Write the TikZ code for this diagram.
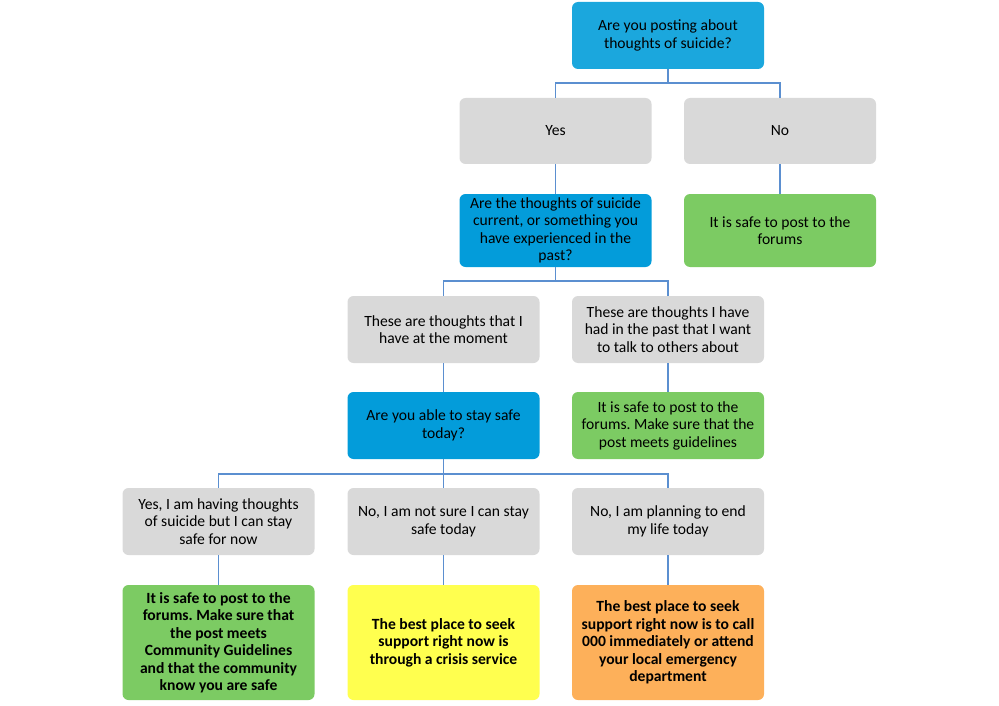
\documentclass[tikz,border=0pt]{standalone}
\usepackage{fontspec}
\setmainfont{Carlito}
\frenchspacing
\definecolor{qblue}{HTML}{1BA7DD}
\definecolor{qblue2}{HTML}{039CDA}
\definecolor{boxgray}{HTML}{D9D9D9}
\definecolor{okgreen}{HTML}{7CCB63}
\definecolor{warnyellow}{HTML}{FFFF4F}
\definecolor{alertorange}{HTML}{FDB05A}
\definecolor{linkblue}{HTML}{5B8FD0}
\begin{document}
\begin{tikzpicture}[x=1pt,y=-1pt,
  base/.style={rectangle,rounded corners=6pt,minimum width=192pt,inner sep=2pt,align=center,
    font=\fontsize{15.6}{17.5}\selectfont,text=black},
  boldtxt/.style={font=\fontsize{15.6}{17.5}\selectfont\bfseries},
  qbox/.style={base,fill=qblue2},
  gbox/.style={base,fill=boxgray},
  okbox/.style={base,fill=okgreen},
  link/.style={draw=linkblue,line width=1.5pt}]
\useasboundingbox (0,0) rectangle (999,706);
\node[base,fill=qblue,minimum height=67pt] (top) at (668,35.5) {Are you posting about\\thoughts of suicide?};
\node[gbox,minimum height=66pt] (yes) at (555.5,131) {Yes};
\node[gbox,minimum height=66pt] (no) at (780,131) {No};
\node[qbox,minimum height=73pt] (q2) at (555.5,230.5) {Are the thoughts of suicide\\current, or something you\\have experienced in the\\past?};
\node[okbox,minimum height=73pt] (g1) at (780,230.5) {It is safe to post to the\\forums};
\node[gbox,minimum height=67pt] (t1) at (443.5,329.5) {These are thoughts that I\\have at the moment};
\node[gbox,minimum height=67pt] (t2) at (668,329.5) {These are thoughts I have\\had in the past that I want\\to talk to others about};
\node[qbox,minimum height=67pt] (q3) at (443.5,425.5) {Are you able to stay safe\\today?};
\node[okbox,minimum height=67pt] (g2) at (668,425.5) {It is safe to post to the\\forums. Make sure that the\\post meets guidelines};
\node[gbox,minimum height=67pt] (r1) at (218.5,521.5) {Yes, I am having thoughts\\of suicide but I can stay\\safe for now};
\node[gbox,minimum height=67pt] (r2) at (443.5,521.5) {No, I am not sure I can stay\\safe today};
\node[gbox,minimum height=67pt] (r3) at (668,521.5) {No, I am planning to end\\my life today};
\node[okbox,boldtxt,minimum height=115pt] (b1) at (218.5,642.5) {It is safe to post to the\\forums. Make sure that\\the post meets\\Community Guidelines\\and that the community\\know you are safe};
\node[base,boldtxt,fill=warnyellow,minimum height=115pt] (b2) at (443.5,642.5) {The best place to seek\\support right now is\\through a crisis service};
\node[base,boldtxt,fill=alertorange,minimum height=115pt] (b3) at (668,642.5) {The best place to seek\\support right now is to call\\000 immediately or attend\\your local emergency\\department};
\coordinate (j1) at (668,83);
\coordinate (j2) at (555.5,281);
\coordinate (j3) at (443.5,474);
\draw[link] (top.south) -- (j1) -| (yes.north);
\draw[link] (j1) -| (no.north);
\draw[link] (yes) -- (q2);
\draw[link] (no) -- (g1);
\draw[link] (q2.south) -- (j2) -| (t1.north);
\draw[link] (j2) -| (t2.north);
\draw[link] (t1) -- (q3);
\draw[link] (t2) -- (g2);
\draw[link] (q3.south) -- (j3) -| (r1.north);
\draw[link] (j3) -- (r2.north);
\draw[link] (j3) -| (r3.north);
\draw[link] (r1) -- (b1);
\draw[link] (r2) -- (b2);
\draw[link] (r3) -- (b3);
\end{tikzpicture}
\end{document}
